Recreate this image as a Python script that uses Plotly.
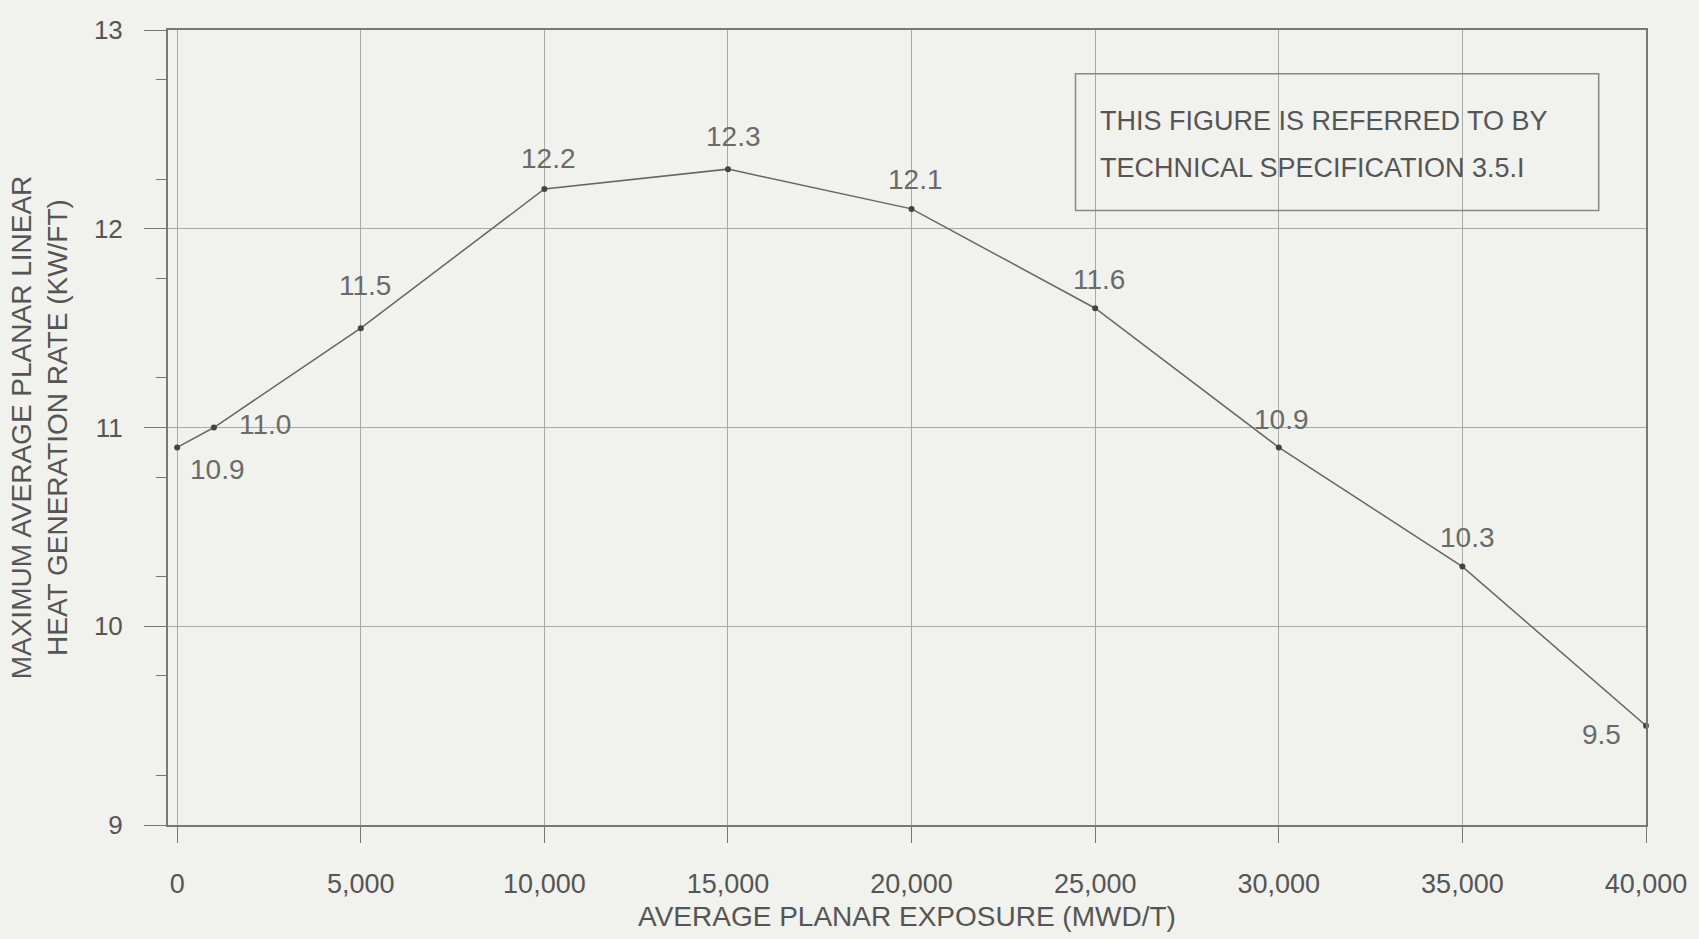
import plotly.graph_objects as go

exposure = [0, 1000, 5000, 10000, 15000, 20000, 25000, 30000, 35000, 40000]
aplhgr = [10.9, 11.0, 11.5, 12.2, 12.3, 12.1, 11.6, 10.9, 10.3, 9.5]
x_ticks = [0, 5000, 10000, 15000, 20000, 25000, 30000, 35000, 40000]
x_ticktext = ["0", "5,000", "10,000", "15,000", "20,000", "25,000", "30,000", "35,000", "40,000"]
y_ticks = [9, 10, 11, 12, 13]
y_minor = [9.25, 9.75, 10.25, 10.75, 11.25, 11.75, 12.25, 12.75]
note_lines = ["THIS FIGURE IS REFERRED TO BY", "TECHNICAL SPECIFICATION 3.5.I"]

# label offsets (pixels) from each point, styling only
label_dx = [40, 51, 4, 4, 6, 4, 4, 3, 5, -45]
label_dy = [-22, 3, 43, 31, 33, 29, 29, 28, 29, -9]

ink = "#555555"
font_main = "Liberation Sans, Arial"

fig = go.Figure()
fig.add_trace(go.Scatter(
    x=exposure, y=aplhgr, mode="lines+markers",
    line=dict(color="#666666", width=1.5),
    marker=dict(size=6, color="#444444"),
    showlegend=False, cliponaxis=False, hoverinfo="skip",
))

for xv, yv, dx, dy in zip(exposure, aplhgr, label_dx, label_dy):
    fig.add_annotation(
        x=xv, y=yv, text=f"{yv:.1f}", showarrow=False,
        xanchor="center", yanchor="middle", xshift=dx, yshift=dy,
        font=dict(size=28, color="#6a6a6a", family=font_main),
    )

# note box
fig.add_shape(type="rect", xref="paper", yref="paper",
              x0=0.614, x1=0.968, y0=0.773, y1=0.945,
              line=dict(color="#888888", width=1.5))
for yy, line in zip([0.885, 0.827], note_lines):
    fig.add_annotation(
        xref="paper", yref="paper", x=0.629, y=yy, xanchor="left", yanchor="middle",
        text=line, showarrow=False,
        font=dict(size=27, color="#555555", family=font_main),
    )

fig.update_layout(
    width=1699, height=939,
    margin=dict(l=168, r=50, t=30, b=111),
    paper_bgcolor="#f1f1ed", plot_bgcolor="#f1f1ed",
    font=dict(family=font_main, color=ink, size=20),
)
fig.update_xaxes(
    range=[-250, 40000], tickvals=x_ticks, ticktext=x_ticktext,
    ticks="outside", ticklen=16, tickcolor="#777777", ticklabelstandoff=18,
    showgrid=True, gridcolor="#a8a8a8", gridwidth=1,
    showline=True, linecolor="#777777", linewidth=2, mirror=True,
    tickfont=dict(size=27, color=ink, family=font_main),
    title=dict(text="AVERAGE PLANAR EXPOSURE (MWD/T)", standoff=8,
               font=dict(size=28, color=ink, family=font_main)),
    zeroline=False,
)
fig.update_yaxes(
    range=[9, 13], tickvals=y_ticks,
    ticks="outside", ticklen=22, tickcolor="#777777", ticklabelstandoff=16,
    showgrid=True, gridcolor="#a8a8a8", gridwidth=1,
    showline=True, linecolor="#777777", linewidth=2, mirror=True,
    minor=dict(tickvals=y_minor, ticks="outside", ticklen=10, tickcolor="#777777", showgrid=False),
    tickfont=dict(size=26, color=ink, family=font_main),
    title=dict(text="MAXIMUM AVERAGE PLANAR LINEAR<br>HEAT GENERATION RATE (KW/FT)", standoff=18,
               font=dict(size=28, color=ink, family=font_main)),
    zeroline=False,
)

fig.write_html("out.html", config={"displayModeBar": False},
               post_script="document.body.style.margin='0';")
